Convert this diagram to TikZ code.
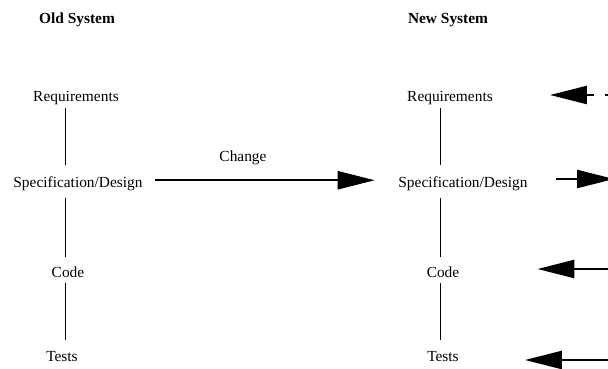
\documentclass[tikz,border=0pt]{standalone}
\usepackage{fontspec}
\setmainfont{Liberation Serif}
\usepackage{tikz}
\usetikzlibrary{arrows.meta}
\usetikzlibrary{calc}

\begin{document}
\begin{tikzpicture}[x=1pt, y=-1pt]
	\useasboundingbox (0,0) rectangle (608,369);
	\clip (0,0) rectangle (608,369);

	\coordinate (oldaxis) at (65,0);
	\coordinate (newaxis) at (440,0);
	\coordinate (reqlink) at (640,95);
	\coordinate (speclink) at (614,179);
	\coordinate (codelink) at (640,269);
	\coordinate (testlink) at (640,360);

	\begin{scope}[every node/.style={anchor=base, inner sep=0pt, text height=11pt, text depth=3.5pt, font=\fontsize{15.4}{18}\selectfont}]
		\node[font=\fontsize{15.4}{18}\selectfont\bfseries] (oldhead) at (77,24) {Old System};
		\node[font=\fontsize{15.4}{18}\selectfont\bfseries] (newhead) at (448,24) {New System};
		\node (oldreq) at (76,102) {Requirements};
		\node (oldspec) at (78,187) {Specification/Design};
		\node (oldcode) at (68,277) {Code};
		\node (oldtests) at (62,361) {Tests};
		\node (newreq) at (450,102) {Requirements};
		\node (newspec) at (463,187) {Specification/Design};
		\node (newcode) at (443,277) {Code};
		\node (newtests) at (443,361) {Tests};
		\node (change) at (243,161) {Change};
	\end{scope}

	\begin{scope}[every edge/.style={draw=black, line width=0.8pt}]
		\path (oldreq.south -| oldaxis) edge[shorten <=2.5pt, shorten >=11pt] (oldspec.north -| oldaxis);
		\path (oldspec.south -| oldaxis) edge[shorten <=7.5pt, shorten >=9pt] (oldcode.north -| oldaxis);
		\path (oldcode.south -| oldaxis) edge[shorten <=2.5pt, shorten >=10pt] (oldtests.north -| oldaxis);
		\path (newreq.south -| newaxis) edge[shorten <=2.5pt, shorten >=11pt] (newspec.north -| newaxis);
		\path (newspec.south -| newaxis) edge[shorten <=7.5pt, shorten >=9pt] (newcode.north -| newaxis);
		\path (newcode.south -| newaxis) edge[shorten <=2.5pt, shorten >=10pt] (newtests.north -| newaxis);
	\end{scope}

	\begin{scope}[>={Triangle[length=37pt, width=18pt]},
	              every edge/.style={draw=black, line width=2.4pt}]
		\path ([yshift=3pt]oldspec.east) edge[->, shorten <=12pt, shorten >=23.5pt] ([yshift=3pt]newspec.west);
		\path (reqlink -| newreq.east) edge[<-, dash pattern=on 8pt off 11pt, shorten <=57pt] (reqlink);
		\path (speclink -| newspec.east) edge[->, shorten <=28.5pt] (speclink);
		\path (codelink -| newcode.east) edge[<-, shorten <=78pt] (codelink);
		\path (testlink -| newtests.east) edge[<-, shorten <=66pt] (testlink);
	\end{scope}
\end{tikzpicture}
\end{document}
